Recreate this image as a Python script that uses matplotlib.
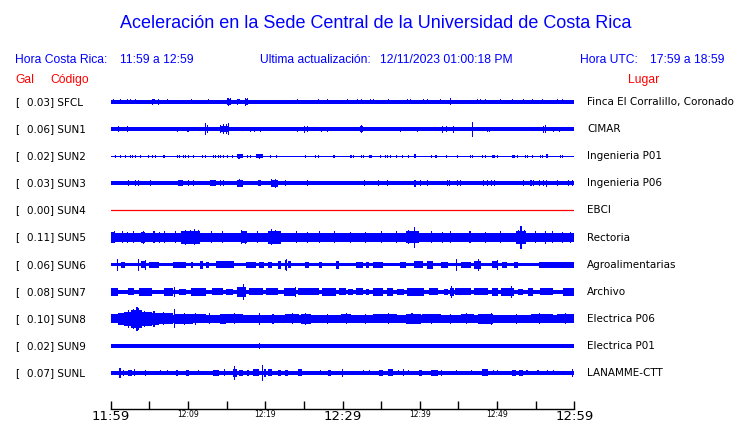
import matplotlib
matplotlib.use("Agg")
import matplotlib.pyplot as plt

# ================== Datos ==================

codes = ["SFCL", "SUN1", "SUN2", "SUN3", "SUN4", "SUN5",
         "SUN6", "SUN7", "SUN8", "SUN9", "SUNL"]
places = ["Finca El Corralillo, Coronado", "CIMAR", "Ingenieria P01",
          "Ingenieria P06", "EBCI", "Rectoria", "Agroalimentarias",
          "Archivo", "Electrica P06", "Electrica P01", "LANAMME-CTT"]
gal = [0.03, 0.06, 0.02, 0.03, 0.00, 0.11, 0.06, 0.08, 0.10, 0.02, 0.07]

# semi-amplitud del ruido de fondo de cada traza (px)
base = [1.8, 2.0, 0.6, 1.8, 0.0, 4.5, 1.8, 2.0, 3.8, 1.8, 1.9]

# picos: (minuto desde 11:59, semi-amplitud)
SFCL_spikes = [(0.4, 2.5), (1.3, 2.5), (2.2, 2.5), (2.6, 2.5), (3.2, 2.5), (5.4, 3), (5.6, 2.5),
               (6.2, 3), (7.4, 2.5), (10.4, 2.5), (12.7, 2.5), (15.1, 3.5), (15.3, 4), (15.5, 3.5),
               (16.4, 3), (16.6, 2.5), (17.5, 4), (17.7, 3.5), (24.2, 2.5), (26.9, 2.5), (28.1, 2.5),
               (30.7, 2.5), (31.9, 2.5), (32.4, 2.5), (33.6, 2.5), (34.0, 2.5), (35.9, 2.5),
               (38.4, 2.5), (38.8, 2.5), (40.5, 2.5), (41.0, 2.5), (42.7, 2.5), (44.0, 3.5),
               (47.5, 2.5), (47.9, 2.5), (48.5, 2.5), (50.5, 2.5), (52.0, 2.5), (53.4, 2.5),
               (54.6, 2.5), (55.9, 2.5), (57.8, 2.5), (58.5, 2.5)]
SUN1_spikes = [(1.0, 3), (2.2, 3), (8.7, 2.5), (10.0, 2.5), (12.3, 6), (12.5, 4), (14.2, 4), (14.6, 5),
               (15.0, 5), (15.3, 6), (18.1, 2.5), (18.6, 2.5), (19.4, 2.5), (24.2, 2.5), (25.1, 3.5),
               (25.5, 3), (27.3, 2.5), (28.1, 2.5), (32.4, 4), (32.6, 3), (37.5, 2.5), (39.7, 2.5),
               (43.0, 3.5), (43.5, 3), (44.4, 3.5), (46.8, 7.5), (48.8, 2.5), (49.0, 2.5), (56.0, 3.5),
               (56.3, 4), (57.3, 2.5), (58.1, 2.5)]
SUN2_spikes = [(0.6, 1.5), (1.3, 1.5), (1.9, 1.5), (2.6, 1.5), (2.8, 1.5), (3.2, 1.5), (3.9, 1.5),
               (4.9, 1.5), (5.4, 1.5), (5.8, 1.5), (6.9, 1.5), (8.7, 1.5), (8.9, 1.5), (9.4, 1.5),
               (9.7, 1.5), (10.1, 1.5), (10.7, 1.5), (11.9, 1.5), (12.3, 1.5), (13.3, 1.5), (13.6, 1.5),
               (14.0, 1.5), (14.2, 1.5), (14.6, 1.5), (15.1, 1.5), (15.8, 1.5), (16.6, 2.5), (17.7, 1.5),
               (18.1, 1.5), (19.3, 2.5), (20.7, 1.5), (21.4, 1.5), (25.2, 1.5), (26.5, 1.5), (26.9, 1.5),
               (28.9, 1.5), (31.1, 1.5), (31.4, 1.5), (32.4, 1.5), (32.7, 1.5), (34.9, 1.5), (35.6, 1.5),
               (35.8, 1.5), (36.2, 1.5), (37.0, 1.5), (37.8, 1.5), (38.6, 1.5), (41.5, 1.5), (42.1, 1.5),
               (43.5, 1.5), (44.9, 1.5), (46.6, 1.5), (46.8, 1.5), (48.1, 1.5), (48.5, 1.5), (50.1, 1.5),
               (52.0, 1.5), (52.2, 1.5), (52.7, 1.5), (53.7, 1.5), (54.0, 1.5), (54.6, 1.5), (55.6, 1.5),
               (55.9, 1.5), (58.2, 1.5), (58.5, 1.5)]
SUN3_spikes = [(2.3, 3), (3.2, 3), (3.6, 3), (5.2, 3), (10.1, 3), (10.7, 3), (14.2, 3), (14.6, 3),
               (16.7, 4), (20.8, 4), (21.3, 4.5), (22.6, 3), (25.5, 3), (32.9, 3), (34.7, 3), (35.8, 3),
               (40.1, 3), (41.0, 3), (43.6, 3), (43.9, 3), (44.9, 3), (45.3, 3), (48.3, 3), (48.8, 3),
               (49.3, 3), (49.7, 3), (53.4, 3), (54.4, 3), (54.7, 3), (55.5, 3), (56.0, 3), (56.4, 3.5),
               (57.8, 3), (59.3, 3), (59.8, 3)]
SUN4_spikes = []
SUN5_spikes = [(0.5, 6), (1.5, 6), (2.2, 5.5), (3.0, 6), (4.2, 6.5), (5.6, 6), (6.3, 5.5), (7.0, 6),
               (8.4, 6), (9.7, 7.5), (10.3, 7), (10.9, 8), (11.4, 7), (13.0, 6), (14.5, 6), (16.9, 7),
               (17.4, 6.5), (19.0, 6), (20.8, 8), (21.3, 7), (21.8, 6.5), (24.0, 6), (25.5, 5.5),
               (27.0, 6), (29.0, 6), (31.0, 5.5), (33.0, 5.5), (35.0, 6), (37.0, 6), (38.6, 7),
               (39.3, 10.5), (41.5, 6), (43.0, 5.5), (44.0, 6), (46.5, 6), (48.5, 5.5), (50.5, 6),
               (52.8, 7), (53.1, 11.5), (53.5, 7), (55.0, 6), (56.3, 6.5), (57.2, 6), (58.5, 5.5),
               (59.5, 5.5)]
SUN6_spikes = [(0.9, 6), (3.6, 6), (4.5, 5), (22.6, 5), (22.8, 6), (44.8, 6), (47.6, 6), (50.1, 5)]
SUN7_spikes = [(8.2, 5), (17.2, 8), (23.9, 5), (44.1, 6), (51.9, 6)]
SUN8_spikes = [(2.3, 9), (2.9, 10), (3.4, 12), (3.6, 11), (4.4, 8), (5.6, 8), (6.8, 6.5), (8.2, 9.5),
               (9.5, 6), (11.0, 6), (12.8, 5.5), (16.0, 5.5), (19.3, 6), (21.0, 5), (23.5, 5.5),
               (25.2, 6), (28.0, 5), (30.5, 5.5), (33.0, 5), (36.0, 5.5), (39.0, 5.5), (41.5, 5),
               (44.0, 5), (46.0, 5.5), (49.3, 6), (52.5, 5), (55.5, 5.5), (58.9, 5.5)]
SUN9_spikes = [(4.5, 2.3), (14.2, 2.3), (19.3, 3), (22.0, 2.3), (34.0, 2.3), (40.8, 2.3), (46.8, 2.3),
               (48.8, 2.3), (52.2, 2.3), (55.6, 2.3), (57.6, 2.3), (59.5, 2.3)]
SUNL_spikes = [(1.2, 5), (1.6, 3), (3.1, 3.5), (4.5, 3), (6.5, 2.5), (7.4, 2.5), (11.4, 2.5), (14.7, 3.5),
               (16.0, 7), (19.6, 8), (27.2, 2.5), (30.0, 4), (32.7, 2.5), (37.2, 2.5), (37.9, 3.5),
               (38.6, 2.5), (44.8, 2.5), (46.7, 2.5), (49.5, 2.5), (50.1, 2.5), (55.3, 2.5), (56.5, 2.5),
               (57.3, 2.5), (59.8, 4)]

# rafagas: (minuto inicio, minuto fin, semi-amplitud)
SFCL_bursts = [(15.0, 15.6, 3), (17.4, 17.8, 3)]
SUN1_bursts = [(14.2, 15.3, 3), (32.3, 32.7, 3)]
SUN2_bursts = [(16.4, 17.1, 1.8), (18.8, 19.7, 1.8), (33.4, 33.8, 1.5), (39.3, 39.5, 2),
               (49.3, 49.7, 1.5), (56.4, 56.6, 2)]
SUN3_bursts = [(8.7, 9.3, 3), (12.9, 13.6, 3), (16.4, 17.1, 3.5), (19.0, 19.4, 3), (20.7, 21.6, 3.5),
               (39.3, 39.5, 3.5)]
SUN4_bursts = []
SUN5_bursts = [(0.0, 0.6, 5.5), (3.9, 4.5, 5.5), (9.1, 11.6, 6.5), (16.8, 17.7, 6), (20.4, 22.0, 6.5),
               (38.2, 39.9, 6), (52.4, 53.7, 6.5)]
SUN6_bursts = [(1.3, 1.9, 3), (3.9, 4.5, 3.5), (4.9, 6.2, 3), (8.0, 9.7, 3), (10.4, 10.7, 3),
               (11.5, 11.9, 4), (12.3, 12.7, 3), (13.6, 15.9, 3.5), (17.5, 18.8, 3), (19.2, 19.8, 3),
               (20.4, 20.9, 3), (21.7, 22.0, 4), (22.9, 23.3, 3.5), (25.2, 25.6, 3), (26.9, 27.4, 3),
               (29.1, 29.5, 4), (31.7, 32.6, 3), (33.0, 33.4, 3), (33.9, 35.3, 3), (37.5, 38.2, 3),
               (39.3, 40.4, 3.5), (41.0, 41.7, 4), (42.7, 43.6, 3), (45.3, 46.6, 3), (47.0, 47.9, 4),
               (49.4, 50.1, 3.5), (50.7, 51.3, 3), (52.2, 52.7, 3), (53.3, 53.4, 3), (55.4, 60.0, 3)]
SUN7_bursts = [(0.0, 1.0, 4), (2.3, 3.0, 3.5), (3.6, 5.4, 4), (6.9, 8.0, 4), (8.8, 9.7, 3),
               (10.4, 12.3, 4), (13.1, 14.5, 3.5), (14.9, 15.8, 3), (16.4, 17.5, 5), (17.9, 19.7, 3.5),
               (20.1, 21.7, 3.5), (22.4, 24.0, 4), (24.2, 26.9, 3.5), (27.4, 29.1, 4), (29.5, 30.4, 3.5),
               (30.7, 31.4, 3), (31.7, 32.6, 3.5), (33.0, 33.4, 3), (33.9, 35.2, 4), (35.8, 36.6, 4),
               (37.1, 37.9, 3), (38.4, 40.5, 4), (41.2, 42.4, 3.5), (43.1, 43.7, 3), (43.9, 44.4, 4),
               (44.6, 46.6, 3.5), (47.0, 48.8, 3.5), (49.4, 50.1, 4), (50.5, 52.2, 4), (52.7, 53.3, 3),
               (54.0, 54.7, 4), (55.6, 57.3, 3.5), (58.5, 60.0, 4)]
SUN8_bursts = [(0.0, 1.0, 4.5), (1.0, 1.7, 6), (1.7, 2.6, 7), (2.6, 4.1, 9), (4.1, 5.4, 7),
               (5.4, 6.2, 6), (6.2, 8.0, 5.5), (8.2, 10.6, 5), (10.6, 12.3, 4.5), (12.3, 14.2, 4),
               (14.2, 14.9, 5), (14.9, 17.1, 4.5), (17.9, 19.7, 3.8), (20.1, 21.8, 4), (22.6, 24.4, 4.5),
               (24.6, 25.9, 5), (27.0, 30.4, 3.8), (29.8, 31.1, 4.5), (31.7, 34.0, 4), (34.0, 37.1, 4.5),
               (38.2, 40.1, 5), (40.3, 42.7, 4.5), (43.1, 45.3, 4), (45.3, 47.0, 4.5), (47.5, 49.5, 5),
               (50.1, 51.3, 3.5), (51.8, 54.0, 4), (54.4, 57.3, 4.5), (57.8, 60.0, 4.5)]
SUN9_bursts = []
SUNL_bursts = [(2.2, 2.8, 3), (8.4, 8.7, 3), (9.7, 10.1, 3), (13.3, 14.0, 3), (15.8, 16.4, 4),
               (16.6, 17.1, 3), (17.7, 17.9, 3), (18.4, 19.2, 3.5), (19.8, 20.1, 4), (20.4, 20.9, 3.5),
               (21.6, 22.0, 3), (22.6, 23.0, 3), (24.3, 24.8, 3.5), (28.1, 28.5, 3), (31.3, 31.4, 3),
               (33.4, 33.6, 2.5), (34.7, 35.3, 3), (35.9, 36.6, 3.5), (39.9, 40.3, 3), (41.5, 42.3, 3),
               (42.7, 42.9, 3), (48.1, 48.8, 3.5), (52.0, 52.4, 3), (52.8, 53.3, 3), (53.7, 54.0, 2.5),
               (54.6, 54.7, 2.5)]

spikes = [SFCL_spikes, SUN1_spikes, SUN2_spikes, SUN3_spikes, SUN4_spikes, SUN5_spikes,
          SUN6_spikes, SUN7_spikes, SUN8_spikes, SUN9_spikes, SUNL_spikes]
bursts = [SFCL_bursts, SUN1_bursts, SUN2_bursts, SUN3_bursts, SUN4_bursts, SUN5_bursts,
          SUN6_bursts, SUN7_bursts, SUN8_bursts, SUN9_bursts, SUNL_bursts]

tick_minutes = list(range(0, 61, 5))
tick_labels = ["11:59", "", "12:09", "", "12:19", "", "12:29",
               "", "12:39", "", "12:49", "", "12:59"]

# ================== Figura ==================

W, H = 740, 423
BLUE = "#0000ff"
RED = "#ff0000"
head_font = "Liberation Sans"
head_size = 8.7

fig = plt.figure(figsize=(W / 100, H / 100), dpi=100)
fig.patch.set_facecolor("white")


def fx(px):
    return px / W


def fy(py):
    return 1 - py / H


ax = fig.add_axes([fx(110.7), 0, 463.6 / W, 1])
ax.set_xlim(0, 60)
ax.set_ylim(H, 0)
ax.axis("off")

row0, row_step = 102, 27.1

for i, code in enumerate(codes):
    y0 = row0 + row_step * i
    if gal[i] == 0:
        ax.plot([0, 60], [y0, y0], color=RED, linewidth=0.9)
    else:
        ax.fill_between([0, 60], y0 - base[i], y0 + base[i], color=BLUE, linewidth=0)
        if spikes[i]:
            t = [s[0] for s in spikes[i]]
            a = [s[1] for s in spikes[i]]
            ax.bar(t, [2 * v for v in a], width=0.14, bottom=[y0 - v for v in a],
                   color=BLUE, linewidth=0)
        if bursts[i]:
            t0 = [b[0] for b in bursts[i]]
            w = [b[1] - b[0] for b in bursts[i]]
            a = [b[2] for b in bursts[i]]
            ax.bar(t0, [2 * v for v in a], width=w, bottom=[y0 - v for v in a],
                   align="edge", color=BLUE, linewidth=0)

    fig.text(fx(15), fy(y0), "[", fontsize=7.5, va="center", color="black")
    fig.text(fx(27), fy(y0), f"{gal[i]:.2f}] {code}", fontsize=7.5, va="center", color="black")
    fig.text(fx(587), fy(y0), places[i], fontsize=7.5, va="center", color="black")

# ================== Eje de tiempo ==================

tax = fig.add_axes([fx(110.7), fy(409), 463.6 / W, 0.02])
tax.set_xlim(0, 60)
tax.set_ylim(0, 1)
tax.patch.set_alpha(0)
for side in ["top", "left", "right"]:
    tax.spines[side].set_visible(False)
tax.spines["bottom"].set_linewidth(1)
tax.set_yticks([])
tax.set_xticks(tick_minutes)
tax.set_xticklabels(tick_labels)
tax.tick_params(axis="x", direction="in", length=6, width=1, pad=1)
for k, lab in enumerate(tax.get_xticklabels()):
    lab.set_fontsize(9.5 if k % 6 == 0 else 5.5)

# ================== Textos ==================

fig.text(fx(120), fy(23), "Aceleración en la Sede Central de la Universidad de Costa Rica",
         ha="left", va="center", fontsize=13, color=BLUE, family=head_font)
fig.text(fx(15), fy(60), "Hora Costa Rica:", fontsize=head_size, va="center", color=BLUE,
         family=head_font)
fig.text(fx(120), fy(60), "11:59 a 12:59", fontsize=head_size, va="center", color=BLUE,
         family=head_font)
fig.text(fx(260), fy(60), "Ultima actualización:", fontsize=head_size, va="center", color=BLUE,
         family=head_font)
fig.text(fx(380), fy(60), "12/11/2023 01:00:18 PM", fontsize=head_size, va="center", color=BLUE,
         family=head_font)
fig.text(fx(580), fy(60), "Hora UTC:", fontsize=head_size, va="center", color=BLUE,
         family=head_font)
fig.text(fx(724), fy(60), "17:59 a 18:59", fontsize=head_size, va="center", ha="right",
         color=BLUE, family=head_font)
fig.text(fx(15), fy(80), "Gal", fontsize=head_size, va="center", color=RED, family=head_font)
fig.text(fx(50), fy(80), "Código", fontsize=head_size, va="center", color=RED, family=head_font)
fig.text(fx(628), fy(80), "Lugar", fontsize=head_size, va="center", color=RED, family=head_font)

fig.savefig("out.png", dpi=100)
